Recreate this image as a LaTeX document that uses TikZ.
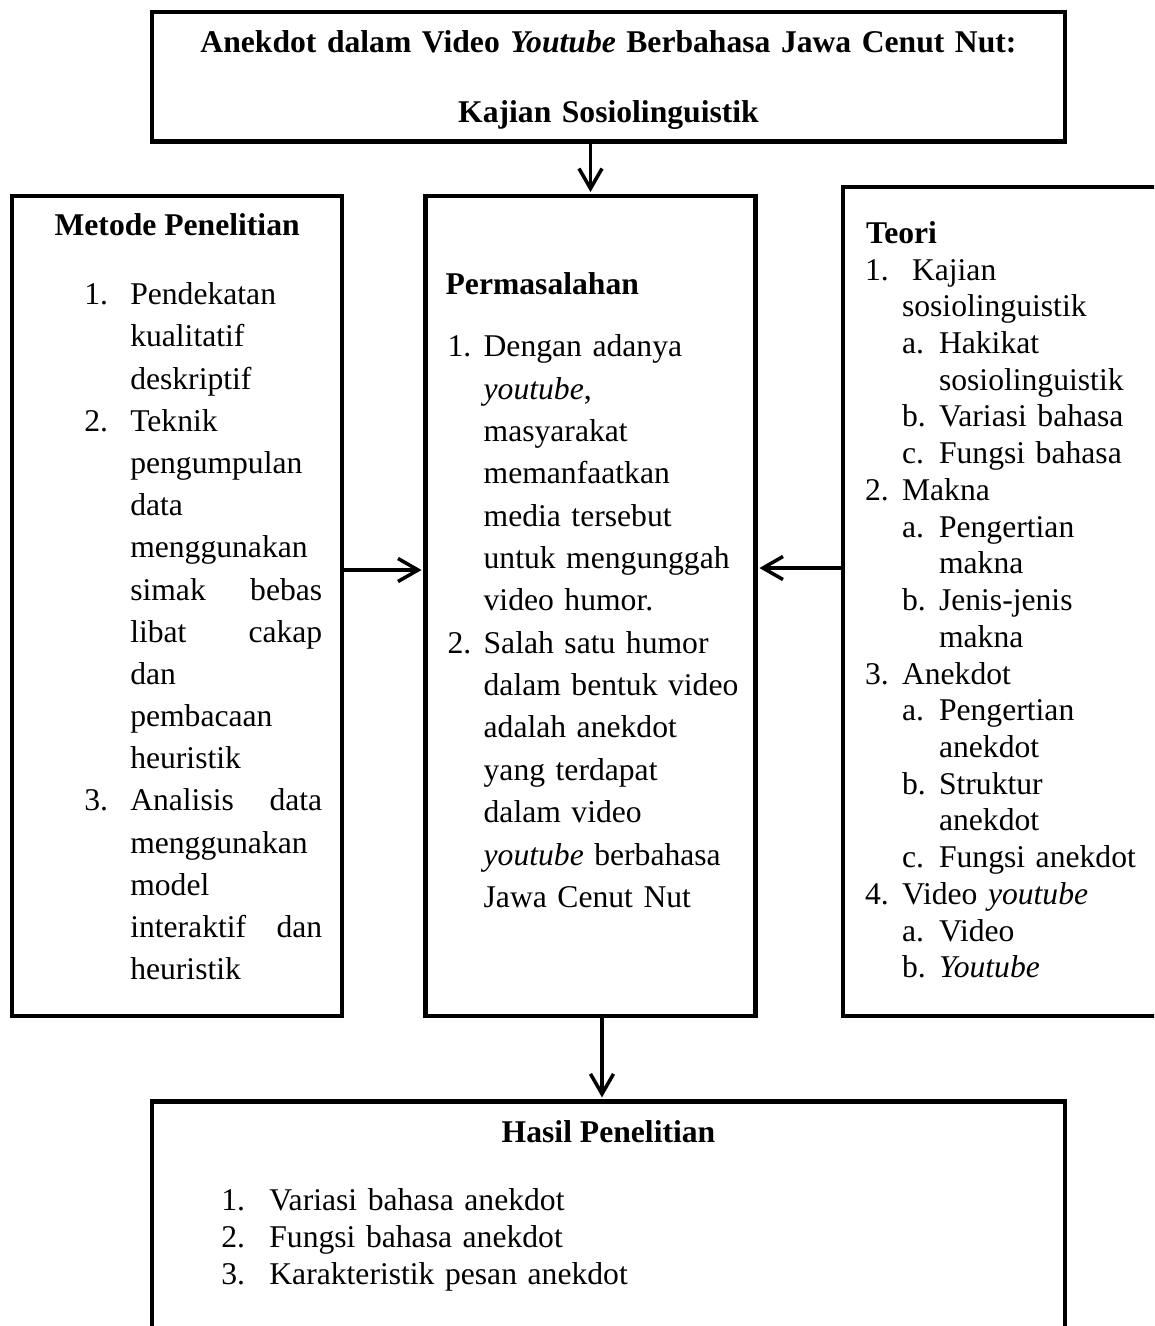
\documentclass[tikz,border=0pt]{standalone}
\usepackage{fontspec}
\setmainfont{Liberation Serif}
\usetikzlibrary{positioning,arrows.meta}

\begin{document}
\begin{tikzpicture}[>={Straight Barb[length=0.4cm,width=0.46cm]},shorten >=1pt,
    main box/.style={rectangle,draw,line width=2.5pt,minimum width=6.6cm,minimum height=16.4cm},
    head text/.style={inner sep=0pt,font=\fontsize{18pt}{24pt}\selectfont\bfseries},
    list text/.style={inner sep=0pt,anchor=base west,font=\fontsize{18pt}{24pt}\selectfont},
    link/.style={->,line width=2pt}]
                \clip[use as bounding box] (0,0) rectangle (23.08,-26.52);

                \node[main box] (masalah) at (11.81,-12.12) {};
                \node[main box] (metode) [left=1.58cm of masalah] {};
                \node[main box, minimum width=6.8cm, minimum height=16.57cm] (teori) [right=1.66cm of masalah, yshift=0.09cm] {};
                \node[main box, minimum width=18.25cm, minimum height=2.59cm] (judul) [above=1cm of masalah, xshift=0.36cm] {};
                \node[main box, minimum width=18.25cm, minimum height=5.2cm] (hasil) [below=1.62cm of masalah, xshift=0.36cm] {};

                \node[head text, text width=17cm, anchor=base, font=\fontsize{18pt}{39.8pt}\selectfont\bfseries] (judulteks) at ([yshift=-0.86cm]judul.north)
                    {\centering Anekdot dalam Video \textit{Youtube} Berbahasa Jawa Cenut Nut:\\ Kajian Sosiolinguistik\par};

                \node[head text, anchor=base] (metodejudul) at ([yshift=-0.84cm]metode.north) {Metode Penelitian};
                \node[list text, text width=4.8cm] (metodeisi) at ([shift={(1.48cm,-2.22cm)}]metode.north west)
                    {\makebox[0.92cm][l]{1.}Pendekatan\\
                     \hspace*{0.92cm}kualitatif\\
                     \hspace*{0.92cm}deskriptif\\
                     \makebox[0.92cm][l]{2.}Teknik\\
                     \hspace*{0.92cm}pengumpulan\\
                     \hspace*{0.92cm}data\\
                     \hspace*{0.92cm}menggunakan\\
                     \hspace*{0.92cm}\makebox[3.84cm][s]{simak\hfill bebas}\\
                     \hspace*{0.92cm}\makebox[3.84cm][s]{libat\hfill cakap}\\
                     \hspace*{0.92cm}dan\\
                     \hspace*{0.92cm}pembacaan\\
                     \hspace*{0.92cm}heuristik\\
                     \makebox[0.92cm][l]{3.}\makebox[3.84cm][s]{Analisis\hfill data}\\
                     \hspace*{0.92cm}menggunakan\\
                     \hspace*{0.92cm}model\\
                     \hspace*{0.92cm}\makebox[3.84cm][s]{interaktif\hfill dan}\\
                     \hspace*{0.92cm}heuristik};

                \node[head text, anchor=base west] (masalahjudul) at ([shift={(0.44cm,-2.02cm)}]masalah.north west) {Permasalahan};
                \node[list text, text width=6cm, font=\fontsize{18pt}{24.1pt}\selectfont] (masalahisi) at ([shift={(0.48cm,-3.26cm)}]masalah.north west)
                    {\makebox[0.72cm][l]{1.}Dengan adanya\\
                     \hspace*{0.72cm}\textit{youtube},\\
                     \hspace*{0.72cm}masyarakat\\
                     \hspace*{0.72cm}memanfaatkan\\
                     \hspace*{0.72cm}media tersebut\\
                     \hspace*{0.72cm}untuk mengunggah\\
                     \hspace*{0.72cm}video humor.\\
                     \makebox[0.72cm][l]{2.}Salah satu humor\\
                     \hspace*{0.72cm}dalam bentuk video\\
                     \hspace*{0.72cm}adalah anekdot\\
                     \hspace*{0.72cm}yang terdapat\\
                     \hspace*{0.72cm}dalam video\\
                     \hspace*{0.72cm}\textit{youtube} berbahasa\\
                     \hspace*{0.72cm}Jawa Cenut Nut};

                \node[head text, anchor=base west] (teorijudul) at ([shift={(0.5cm,-1.16cm)}]teori.north west) {Teori};
                \node[list text, text width=5.6cm, font=\fontsize{18pt}{20.9pt}\selectfont] (teoriisi) at ([shift={(0.48cm,-1.9cm)}]teori.north west)
                    {\makebox[0.74cm][l]{1.}\hspace{0.2cm}Kajian\\
                     \hspace*{0.74cm}sosiolinguistik\\
                     \hspace*{0.74cm}\makebox[0.74cm][l]{a.}Hakikat\\
                     \hspace*{1.48cm}sosiolinguistik\\
                     \hspace*{0.74cm}\makebox[0.74cm][l]{b.}Variasi bahasa\\
                     \hspace*{0.74cm}\makebox[0.74cm][l]{c.}Fungsi bahasa\\
                     \makebox[0.74cm][l]{2.}Makna\\
                     \hspace*{0.74cm}\makebox[0.74cm][l]{a.}Pengertian\\
                     \hspace*{1.48cm}makna\\
                     \hspace*{0.74cm}\makebox[0.74cm][l]{b.}Jenis-jenis\\
                     \hspace*{1.48cm}makna\\
                     \makebox[0.74cm][l]{3.}Anekdot\\
                     \hspace*{0.74cm}\makebox[0.74cm][l]{a.}Pengertian\\
                     \hspace*{1.48cm}anekdot\\
                     \hspace*{0.74cm}\makebox[0.74cm][l]{b.}Struktur\\
                     \hspace*{1.48cm}anekdot\\
                     \hspace*{0.74cm}\makebox[0.74cm][l]{c.}Fungsi anekdot\\
                     \makebox[0.74cm][l]{4.}Video \textit{youtube}\\
                     \hspace*{0.74cm}\makebox[0.74cm][l]{a.}Video\\
                     \hspace*{0.74cm}\makebox[0.74cm][l]{b.}\textit{Youtube}};

                \node[head text, anchor=base] (hasiljudul) at ([yshift=-0.86cm]hasil.north) {Hasil Penelitian};
                \node[list text, text width=10cm, font=\fontsize{18pt}{21pt}\selectfont] (hasilisi) at ([shift={(1.42cm,-2.22cm)}]hasil.north west)
                    {\makebox[0.96cm][l]{1.}Variasi bahasa anekdot\\
                     \makebox[0.96cm][l]{2.}Fungsi bahasa anekdot\\
                     \makebox[0.96cm][l]{3.}Karakteristik pesan anekdot};

                \path[link]
                    (judul.south -| masalah.north) edge (masalah.north)
                    ([yshift=0.72cm]metode.east) edge ([yshift=0.72cm]masalah.west)
                    ([yshift=0.67cm]teori.west) edge ([yshift=0.76cm]masalah.east)
                    ([xshift=0.23cm]masalah.south) edge ([xshift=-0.13cm]hasil.north)
                ;

            \end{tikzpicture}
\end{document}
